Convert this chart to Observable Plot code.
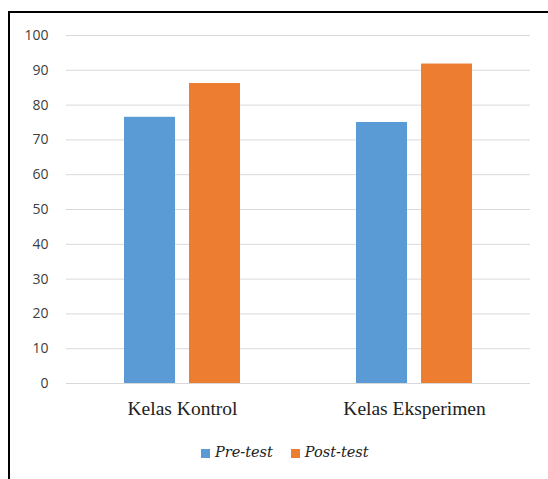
<!DOCTYPE html>
<html>
<head>
<meta charset="utf-8">
<script src="https://cdn.jsdelivr.net/npm/d3@7"></script>
<script src="https://cdn.jsdelivr.net/npm/@observablehq/plot@0.6"></script>
<style>
  html, body { margin: 0; padding: 0; background: #fff; width: 548px; height: 479px; overflow: hidden; }
  #frame { position: absolute; left: 8px; top: 11px; width: 600px; height: 600px; border-top: 2px solid #000; border-left: 2px solid #000; box-sizing: border-box; }
  #chart { position: absolute; left: 0; top: 0; }
  #legend { position: absolute; left: 201px; top: 444px; display: flex; align-items: center; white-space: nowrap; }
  #legend .item { display: inline-flex; align-items: center; margin-right: 18px; }
  #legend .sw { width: 9px; height: 9px; display: inline-block; margin-right: 5px; margin-top: 3px; }
  #legend .lbl { font-family: "DejaVu Serif", serif; font-style: italic; font-size: 14.5px; color: #222; }
</style>
</head>
<body>
<div id="frame"></div>
<div id="chart"></div>
<div id="legend"></div>
<script>
const categories = ["Kelas Kontrol", "Kelas Eksperimen"];
const series = ["Pre-test", "Post-test"];
const preTest = [76.5, 75];
const postTest = [86.2, 91.8];
const yTicks = [0, 10, 20, 30, 40, 50, 60, 70, 80, 90, 100];
const colors = ["#5b9bd5", "#ed7d31"];

const data = [];
categories.forEach((c, i) => {
  data.push({category: c, series: series[0], value: preTest[i]});
  data.push({category: c, series: series[1], value: postTest[i]});
});

const plot = Plot.plot({
  width: 548,
  height: 430,
  marginLeft: 66,
  marginRight: 18,
  marginTop: 35,
  marginBottom: 47,
  style: {background: "transparent", overflow: "visible"},
  fx: {domain: categories, padding: 0, label: null},
  x: {domain: series, paddingInner: 0.212, paddingOuter: 0.864, axis: null},
  y: {domain: [0, 100], label: null},
  color: {domain: series, range: colors},
  marks: [
    Plot.gridY(yTicks, {stroke: "#d9d9d9", strokeOpacity: 1, strokeWidth: 1}),
    Plot.barY(data, {fx: "category", x: "series", y: "value", fill: "series"}),
    Plot.axisY(yTicks, {tickSize: 0, tickPadding: 18, fontSize: 14, fontFamily: "'Open Sans', 'Liberation Sans', sans-serif", fill: "#404040", label: null}),
    Plot.axisFx({anchor: "bottom", tickSize: 0, tickPadding: 18, fontSize: 19.5, fontFamily: "'Liberation Serif', 'DejaVu Serif', serif", fill: "#222", label: null})
  ]
});
document.getElementById("chart").appendChild(plot);

// Legend built from the plot's color scale
const color = plot.scale("color");
const legend = document.getElementById("legend");
color.domain.forEach((s, i) => {
  const item = document.createElement("span");
  item.className = "item";
  const sw = document.createElement("span");
  sw.className = "sw";
  sw.style.background = color.range[i];
  const lbl = document.createElement("span");
  lbl.className = "lbl";
  lbl.textContent = s;
  item.appendChild(sw);
  item.appendChild(lbl);
  legend.appendChild(item);
});
</script>
</body>
</html>
